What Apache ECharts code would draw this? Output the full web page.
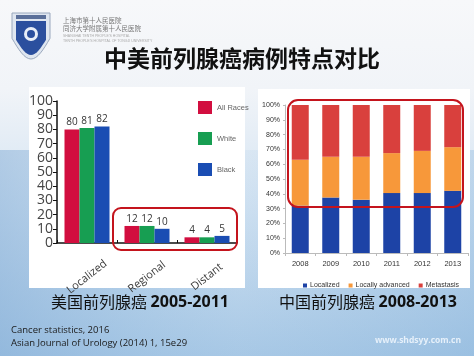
<!DOCTYPE html>
<html><head><meta charset="utf-8">
<script src="https://cdn.jsdelivr.net/npm/echarts@6/dist/echarts.min.js"></script>
<style>html,body{margin:0;padding:0;}#c{width:474px;height:356px;}</style>
</head><body><div id="c"></div>
<script>
// Left chart (US)
const usCategories = ['Localized', 'Regional', 'Distant'];
const usAllRaces = [80, 12, 4];
const usWhite = [81, 12, 4];
const usBlack = [82, 10, 5];
const usYTicks = [0, 10, 20, 30, 40, 50, 60, 70, 80, 90, 100];
// Right chart (China)
const cnYears = ['2008', '2009', '2010', '2011', '2012', '2013'];
const cnLocalized = [32, 37.5, 36, 40.5, 40.5, 42];
const cnLocallyAdvanced = [31, 27.5, 29, 27, 28.5, 29.5];
const cnMetastasis = [37, 35, 35, 32.5, 31, 28.5];

const chart = echarts.init(document.getElementById('c'));
const sans = 'Open Sans, Liberation Sans, sans-serif';
const arial = 'Liberation Sans, Arial, sans-serif';

function shield(x0, y0, w, h) {
  const pts = [[x0, y0], [x0 + w, y0], [x0 + w, y0 + h * 0.55]];
  for (let i = 1; i <= 8; i++) {
    const t = i / 8;
    pts.push([x0 + w - (w / 2) * t, y0 + h * 0.55 + h * 0.45 * Math.sin(t * Math.PI / 2)]);
  }
  for (let i = 7; i >= 0; i--) {
    const t = i / 8;
    pts.push([x0 + (w / 2) * t, y0 + h * 0.55 + h * 0.45 * Math.sin(t * Math.PI / 2)]);
  }
  return pts;
}

chart.setOption({
  animation: false,
  backgroundColor: '#eef3f8',
  graphic: [
    { type: 'rect', z: -20, shape: { x: 0, y: 0, width: 474, height: 356 },
      style: { fill: new echarts.graphic.LinearGradient(0, 0, 0, 1, [
        { offset: 0, color: '#f7f8fa' }, { offset: 0.25, color: '#f1f4f8' },
        { offset: 0.55, color: '#d6e5f3' }, { offset: 1, color: '#a9c9e6' }]) } },
    { type: 'rect', z: -19, shape: { x: 0, y: 150, width: 474, height: 206 },
      style: { fill: new echarts.graphic.LinearGradient(0, 0, 1, 0, [
        { offset: 0, color: 'rgba(120,165,210,0.45)' }, { offset: 0.5, color: 'rgba(150,190,225,0.1)' },
        { offset: 1, color: 'rgba(120,170,215,0.3)' }]) } },
    // logo shield
    { type: 'polygon', z: -5, shape: { points: shield(12, 13, 38, 46) },
      style: { fill: '#dfe6f0', stroke: '#9aa8bd', lineWidth: 1 } },
    { type: 'polygon', z: -4, shape: { points: shield(16, 21, 30, 34) },
      style: { fill: '#2b4f9e' } },
    { type: 'circle', z: -3, shape: { cx: 31, cy: 34, r: 7 }, style: { fill: '#e8eef8' } },
    { type: 'circle', z: -2, shape: { cx: 31, cy: 34, r: 4 }, style: { fill: '#2b4f9e' } },
    { type: 'rect', z: -3, shape: { x: 16, y: 15, width: 30, height: 4 }, style: { fill: '#5a6f99' } },
    { type: 'text', z: -3, style: { x: 63, y: 17, text: '上海市第十人民医院', fontSize: 6.5, fill: '#777', fontFamily: 'Noto Sans CJK SC' } },
    { type: 'text', z: -3, style: { x: 63, y: 25, text: '同济大学附属第十人民医院', fontSize: 6.5, fill: '#777', fontFamily: 'Noto Sans CJK SC' } },
    { type: 'text', z: -3, style: { x: 63, y: 34, text: 'SHANGHAI TENTH PEOPLE\'S HOSPITAL', fontSize: 3.5, fill: '#aaa', fontFamily: arial } },
    { type: 'text', z: -3, style: { x: 63, y: 39, text: 'TENTH PEOPLE\'S HOSPITAL OF TONGJI UNIVERSITY', fontSize: 3.5, fill: '#aaa', fontFamily: arial } },
    // title
    { type: 'text', z: 5, style: { x: 242, y: 58, text: '中美前列腺癌病例特点对比', fontSize: 23, fontWeight: 'bold',
      fill: '#111', align: 'center', verticalAlign: 'middle', fontFamily: 'Noto Sans CJK SC' } },
    // panels
    { type: 'rect', z: -5, shape: { x: 29, y: 87, width: 216, height: 201 }, style: { fill: '#ffffff' } },
    { type: 'rect', z: -5, shape: { x: 258, y: 89, width: 212, height: 199 }, style: { fill: '#ffffff' } },
    // highlight boxes
    { type: 'rect', z: 100, shape: { x: 113, y: 208, width: 124, height: 42, r: 8 },
      style: { fill: 'none', stroke: '#c4141d', lineWidth: 2 } },
    { type: 'rect', z: 100, shape: { x: 288, y: 100, width: 175, height: 107, r: 10 },
      style: { fill: 'none', stroke: '#c4141d', lineWidth: 2 } },
    // captions
    { type: 'text', z: 5, style: { x: 140, y: 302, align: 'center', verticalAlign: 'middle',
      rich: { c: { fontSize: 16, fill: '#111', fontFamily: 'Noto Sans CJK SC' }, n: { fontSize: 16, fontWeight: 'bold', fill: '#111', fontFamily: sans } },
      text: '{c|美国前列腺癌 }{n|2005-2011}' } },
    { type: 'text', z: 5, style: { x: 368, y: 302, align: 'center', verticalAlign: 'middle',
      rich: { c: { fontSize: 16, fill: '#111', fontFamily: 'Noto Sans CJK SC' }, n: { fontSize: 16, fontWeight: 'bold', fill: '#111', fontFamily: sans } },
      text: '{c|中国前列腺癌 }{n|2008-2013}' } },
    { type: 'text', z: 5, style: { x: 11, y: 330, verticalAlign: 'middle', text: 'Cancer statistics, 2016', fontSize: 9.5, fill: '#1a1a1a', fontFamily: sans } },
    { type: 'text', z: 5, style: { x: 11, y: 343, verticalAlign: 'middle', text: 'Asian Journal of Urology (2014) 1, 15e29', fontSize: 9.5, fill: '#1a1a1a', fontFamily: sans } },
    { type: 'text', z: 5, style: { x: 461, y: 341, align: 'right', verticalAlign: 'middle', text: 'www.shdsyy.com.cn', fontSize: 8.5, fill: '#e6f0fa', fontWeight: 'bold', fontFamily: sans } }
  ],
  legend: [
    { data: ['All Races', 'White', 'Black'], orient: 'vertical', left: 193, top: 96,
      itemWidth: 14, itemHeight: 13, itemGap: 18, icon: 'rect',
      textStyle: { fontSize: 7.5, color: '#666', fontFamily: arial } },
    { data: ['Localized', 'Locally advanced', 'Metastasis'], orient: 'horizontal', left: 298, top: 277, width: 172,
      itemWidth: 4, itemHeight: 4, itemGap: 9, icon: 'rect',
      textStyle: { fontSize: 7, color: '#333', fontFamily: arial, padding: [0, 0, 0, -2] } }
  ],
  grid: [
    { left: 57, right: 237, top: 101, bottom: 113 },
    { left: 285, right: 6, top: 105, bottom: 103 }
  ],
  xAxis: [
    { type: 'category', gridIndex: 0, data: usCategories,
      axisLine: { lineStyle: { color: '#111', width: 1.5 } },
      axisTick: { show: true, inside: true, length: 3, lineStyle: { color: '#111' } },
      axisLabel: { rotate: 38, align: 'center', verticalAlign: 'middle', margin: 34, fontSize: 11, color: '#3a3a3a', fontFamily: sans } },
    { type: 'category', gridIndex: 1, data: cnYears,
      axisLine: { lineStyle: { color: '#bbb', width: 1 } },
      axisTick: { show: true, length: 3, lineStyle: { color: '#bbb' } },
      axisLabel: { margin: 7, fontSize: 7.5, color: '#333', fontFamily: arial } }
  ],
  yAxis: [
    { type: 'value', gridIndex: 0, min: usYTicks[0], max: usYTicks[usYTicks.length - 1], interval: 10,
      axisLine: { show: true, lineStyle: { color: '#111', width: 1.5 } },
      axisTick: { show: true, length: 4, lineStyle: { color: '#111' } },
      splitLine: { show: false },
      axisLabel: { fontSize: 14, color: '#444', margin: 4, fontFamily: sans } },
    { type: 'value', gridIndex: 1, min: 0, max: 100, interval: 10,
      axisLine: { show: true, lineStyle: { color: '#bbb' } },
      axisTick: { show: true, length: 2, lineStyle: { color: '#bbb' } },
      splitLine: { show: false },
      axisLabel: { formatter: '{value}%', fontSize: 7, color: '#333', margin: 5, fontFamily: arial } }
  ],
  series: [
    { name: 'All Races', type: 'bar', xAxisIndex: 0, yAxisIndex: 0, data: usAllRaces, barGap: '0%', barCategoryGap: '25%',
      itemStyle: { color: '#d20e3f' }, label: { show: true, position: 'top', fontSize: 10, color: '#333', distance: 2, fontFamily: sans } },
    { name: 'White', type: 'bar', xAxisIndex: 0, yAxisIndex: 0, data: usWhite, barGap: '0%', barCategoryGap: '25%',
      itemStyle: { color: '#179e52' }, label: { show: true, position: 'top', fontSize: 10, color: '#333', distance: 2, fontFamily: sans } },
    { name: 'Black', type: 'bar', xAxisIndex: 0, yAxisIndex: 0, data: usBlack, barGap: '0%', barCategoryGap: '25%',
      itemStyle: { color: '#1a4db3' }, label: { show: true, position: 'top', fontSize: 10, color: '#333', distance: 2, fontFamily: sans } },
    { name: 'Localized', type: 'bar', stack: 'cn', xAxisIndex: 1, yAxisIndex: 1, data: cnLocalized, barWidth: 17,
      itemStyle: { color: '#1d43a6' } },
    { name: 'Locally advanced', type: 'bar', stack: 'cn', xAxisIndex: 1, yAxisIndex: 1, data: cnLocallyAdvanced, barWidth: 17,
      itemStyle: { color: '#f7983a' } },
    { name: 'Metastasis', type: 'bar', stack: 'cn', xAxisIndex: 1, yAxisIndex: 1, data: cnMetastasis, barWidth: 17,
      itemStyle: { color: '#d9403d' } }
  ]
});
</script></body></html>
